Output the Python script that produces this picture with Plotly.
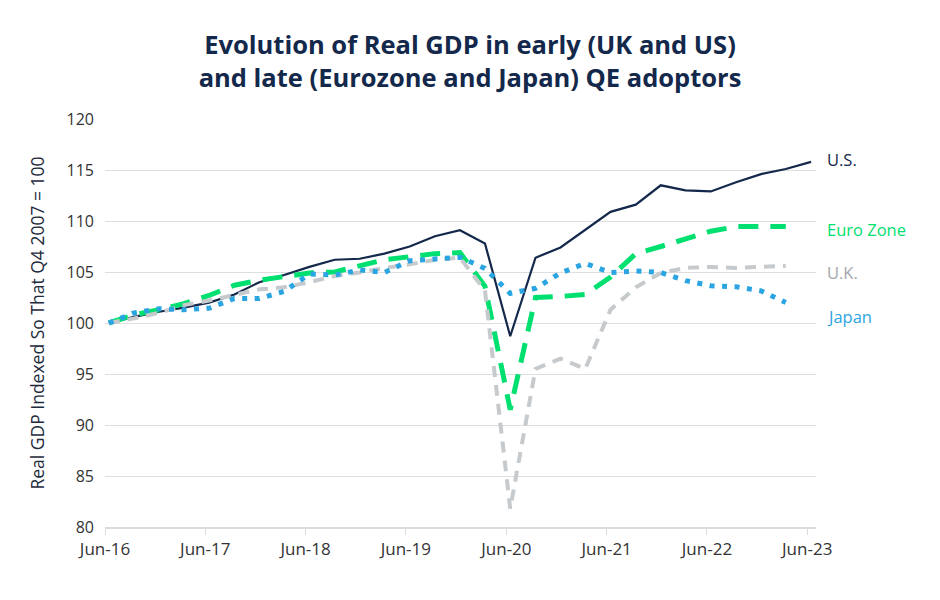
import pandas as pd
import plotly.graph_objects as go

# quarterly observations, Q2 2016 .. Q2 2023 (US has one more quarter)
QUARTERS = [
    "2016Q2", "2016Q3", "2016Q4", "2017Q1", "2017Q2", "2017Q3", "2017Q4", "2018Q1",
    "2018Q2", "2018Q3", "2018Q4", "2019Q1", "2019Q2", "2019Q3", "2019Q4", "2020Q1",
    "2020Q2", "2020Q3", "2020Q4", "2021Q1", "2021Q2", "2021Q3", "2021Q4", "2022Q1",
    "2022Q2", "2022Q3", "2022Q4", "2023Q1", "2023Q2",
]

US = [
    100.0, 100.6, 101.1, 101.5, 102.0, 102.8, 104.0, 104.7,
    105.5, 106.2, 106.3, 106.8, 107.5, 108.5, 109.1, 107.8,
    98.7, 106.4, 107.4, 109.1, 110.9, 111.6, 113.5, 113.0,
    112.9, 113.8, 114.6, 115.1, 115.8,
]
EURO_ZONE = [
    100.0, 100.8, 101.3, 101.9, 102.7, 103.7, 104.2, 104.5,
    104.9, 105.0, 105.6, 106.2, 106.5, 106.8, 106.9, 103.6,
    91.5, 102.5, 102.6, 102.8, 104.5, 106.8, 107.5, 108.3,
    109.0, 109.45, 109.45, 109.45,
]
UK = [
    100.0, 100.45, 101.0, 101.75, 102.2, 102.75, 103.3, 103.5,
    104.0, 104.6, 104.95, 105.4, 105.75, 106.2, 106.4, 103.2,
    81.8, 95.5, 96.5, 95.5, 101.3, 103.5, 104.9, 105.4,
    105.5, 105.4, 105.5, 105.6,
]
JAPAN = [
    100.0, 101.0, 101.4, 101.3, 101.45, 102.4, 102.4, 103.1,
    104.8, 104.7, 105.2, 104.95, 106.1, 106.3, 106.45, 105.35,
    102.9, 103.4, 104.9, 105.85, 104.95, 105.1, 104.95, 104.15,
    103.65, 103.55, 103.15, 102.0,
]

TICK_YEARS = [2016, 2017, 2018, 2019, 2020, 2021, 2022, 2023]

NAVY = "#13284a"
GREEN = "#00e070"
GREY = "#c6cacd"
BLUE = "#2ba5e2"
FONT = "Open Sans"

# mid-month of the last month of each quarter
dates = pd.PeriodIndex(QUARTERS, freq="Q").to_timestamp(how="end").normalize() - pd.offsets.MonthBegin(1) + pd.Timedelta(days=14)

series = [
    ("U.S.", US, NAVY, NAVY, "solid", 2.2),
    ("Euro Zone", EURO_ZONE, GREEN, GREEN, "20px,12px", 5),
    ("U.K.", UK, GREY, "#a3a7ab", "11px,8px", 4),
    ("Japan", JAPAN, BLUE, BLUE, "5px,7.5px", 5),
]

fig = go.Figure()
for name, values, color, label_color, dash, width in series:
    fig.add_trace(
        go.Scatter(
            x=dates[: len(values)],
            y=values,
            mode="lines",
            name=name,
            line={"color": color, "width": width, "dash": dash},
            showlegend=False,
        )
    )

label_y = {"U.S.": 116.0, "Euro Zone": 109.2, "U.K.": 105.0, "Japan": 100.6}
for name, values, color, label_color, dash, width in series:
    fig.add_annotation(
        x=1.013,
        xref="paper",
        y=label_y[name],
        yref="y",
        text=name,
        showarrow=False,
        xanchor="left",
        font={"family": FONT, "size": 16.5, "color": label_color},
    )

tickvals = [pd.Timestamp(f"{y}-06-01") for y in TICK_YEARS]
ticktext = [f"Jun-{str(y)[2:]}" for y in TICK_YEARS]

fig.update_xaxes(
    range=[pd.Timestamp("2016-06-01"), pd.Timestamp("2023-07-03")],
    tickvals=tickvals,
    ticktext=ticktext,
    showgrid=False,
    showline=True,
    linecolor="#dcdcdc",
    linewidth=1.5,
    ticks="outside",
    tickcolor="#dcdcdc",
    ticklen=6,
    tickfont={"family": FONT, "size": 17, "color": "#333333"},
    zeroline=False,
)
fig.update_yaxes(
    range=[80, 120],
    tickvals=[80, 85, 90, 95, 100, 105, 110, 115, 120],
    showgrid=True,
    gridcolor="#dedede",
    gridwidth=1,
    zeroline=False,
    ticks="",
    ticklabelstandoff=10,
    tickfont={"family": FONT, "size": 16, "color": "#333333"},
    automargin=False,
    title={"text": "Real GDP Indexed So That Q4 2007 = 100", "font": {"family": FONT, "size": 17.5, "color": "#1e2b3c"}, "standoff": 17},
)

# page body adds an 8px offset, so the figure is drawn a little smaller
fig.update_layout(
    width=924,
    height=584,
    margin={"l": 97, "r": 116, "t": 111, "b": 65},
    paper_bgcolor="white",
    plot_bgcolor="white",
    title={
        "text": "<b>Evolution of Real GDP in early (UK and US)<br>and late (Eurozone and Japan) QE adoptors</b>",
        "x": 0.5,
        "xref": "container",
        "xanchor": "center",
        "y": 0.922,
        "yref": "container",
        "yanchor": "top",
        "font": {"family": FONT, "size": 25.5, "color": NAVY},
    },
)

fig.write_html("out.html")
